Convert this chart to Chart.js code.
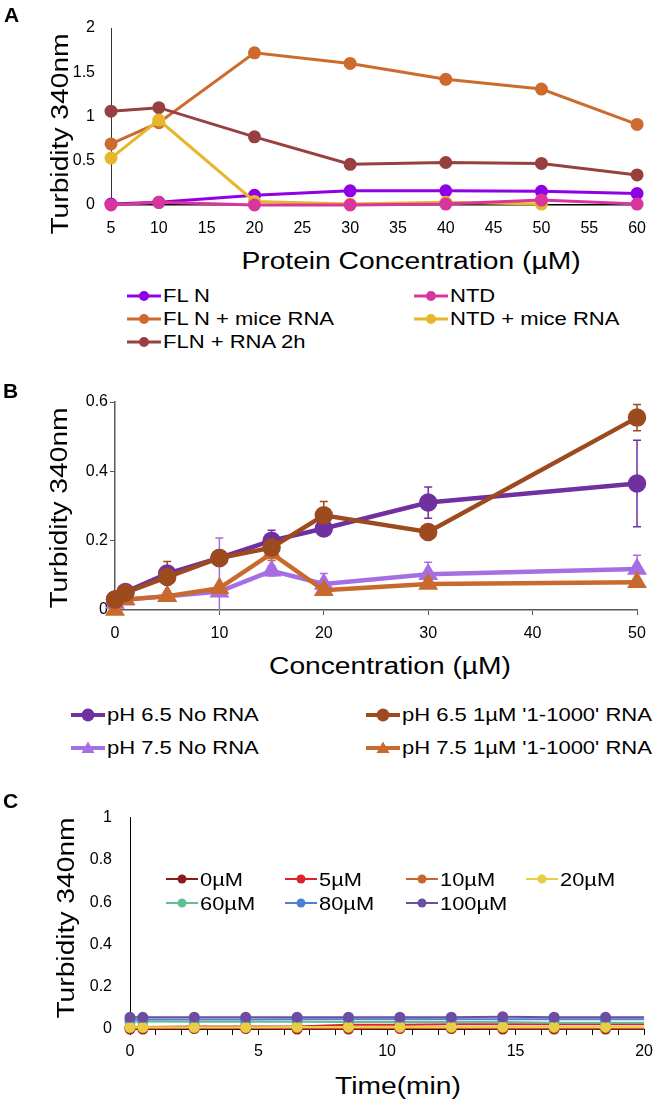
<!DOCTYPE html>
<html>
<head>
<meta charset="utf-8">
<script src="https://cdn.jsdelivr.net/npm/chart.js"></script>
<style>
  body { margin: 0; background: #fff; }
  #page { position: relative; width: 660px; height: 1105px; overflow: hidden; font-family: 'Liberation Sans', Arial, sans-serif; color: #000; }
  canvas { position: absolute; left: 0; }
  .panel { position: absolute; font-weight: bold; font-size: 21px; line-height: 1; }
  .title { position: absolute; white-space: nowrap; font-size: 23.5px; line-height: 1; }
  .xt { transform: translate(-50%, -50%) scaleX(1.2); }
  .yt { transform: translate(-50%, -50%) rotate(-90deg) scaleX(1.2); }
  .leg { position: absolute; display: flex; align-items: center; white-space: nowrap; height: 22px; }
  .leg span { display: inline-block; transform-origin: 0 50%; line-height: 1; }
</style>
</head>
<body>
<div id="page">
  <canvas id="chartA" width="660" height="245" style="top:0"></canvas>
  <canvas id="chartB" width="660" height="270" style="top:380px"></canvas>
  <canvas id="chartC" width="660" height="280" style="top:790px"></canvas>

  <div class="panel" style="left:4px;top:4px">A</div>
  <div class="panel" style="left:3px;top:380px">B</div>
  <div class="panel" style="left:3px;top:790px">C</div>

  <div class="title yt" style="left:61px;top:134px">Turbidity 340nm</div>
  <div class="title xt" style="left:411px;top:262px">Protein Concentration (µM)</div>
  <div class="title yt" style="left:60px;top:508px">Turbidity 340nm</div>
  <div class="title xt" style="left:390px;top:667px">Concentration (µM)</div>
  <div class="title yt" style="left:67px;top:918px">Turbidity 340nm</div>
  <div class="title xt" style="left:398px;top:1087px">Time(min)</div>
</div>
<script>
// ---- panel A: turbidity vs protein concentration
const concA = [5, 10, 20, 30, 40, 50, 60];
const flN = [0.01, 0.03, 0.11, 0.16, 0.16, 0.155, 0.13];
const ntd = [0.0, 0.03, 0.0, 0.0, 0.01, 0.056, 0.01];
const flNMice = [0.69, 0.93, 1.72, 1.6, 1.42, 1.31, 0.91];
const ntdMice = [0.53, 0.96, 0.04, 0.01, 0.03, 0.01, null];
const flnRna2h = [1.06, 1.1, 0.77, 0.46, 0.48, 0.47, 0.34];
const labelsA = ['FL N', 'NTD', 'FL N + mice RNA', 'NTD + mice RNA', 'FLN + RNA 2h'];
const colorsA = ['#8f00e6', '#d8369c', '#cd6b2e', '#e8b62b', '#984040'];

// ---- panel B: turbidity vs concentration, with error bars
const concB = [0, 1, 5, 10, 15, 20, 30, 50];
const ph65No = [0.03, 0.052, 0.105, 0.15, 0.2, 0.235, 0.31, 0.365];
const ph65Rna = [0.03, 0.05, 0.095, 0.15, 0.18, 0.273, 0.225, 0.555];
const ph75No = [0.02, 0.03, 0.04, 0.053, 0.113, 0.075, 0.103, 0.118];
const ph75Rna = [0.0, 0.03, 0.04, 0.063, 0.163, 0.057, 0.075, 0.08];
const err65No = [0.005, 0.005, 0.01, 0.01, 0.03, 0.01, 0.045, 0.125];
const err65Rna = [0.005, 0.005, 0.045, 0.01, 0.01, 0.04, 0.01, 0.038];
const err75No = [0.005, 0.005, 0.01, 0.155, 0.015, 0.03, 0.035, 0.04];
const err75Rna = [0.005, 0.005, 0.005, 0.01, 0.02, 0.01, 0.01, 0.01];
const labelsB = ['pH 6.5 No RNA', "pH 6.5 1µM '1-1000' RNA", 'pH 7.5 No RNA', "pH 7.5 1µM '1-1000' RNA"];
const colorsB = ['#7030a0', '#9c4a1e', '#a56fe3', '#c8692e'];
const shapesB = ['circle', 'circle', 'triangle', 'triangle'];

// ---- panel C: turbidity over time
const timeC = [0, 0.5, 2.5, 4.5, 6.5, 8.5, 10.5, 12.5, 14.5, 16.5, 18.5, 20];
const c0 = [0.0, 0.0, 0.002, 0.002, 0.0, 0.0, 0.002, 0.002, 0.0, 0.0, 0.0, 0.0];
const c5 = [0.01, 0.01, 0.012, 0.012, 0.012, 0.02, 0.02, 0.022, 0.022, 0.022, 0.022, 0.022];
const c10 = [0.005, 0.005, 0.005, 0.005, 0.005, 0.005, 0.005, 0.005, 0.005, 0.005, 0.005, 0.005];
const c20 = [0.008, 0.008, 0.008, 0.008, 0.01, 0.01, 0.01, 0.01, 0.01, 0.01, 0.01, 0.01];
const c60 = [0.035, 0.035, 0.034, 0.034, 0.034, 0.033, 0.033, 0.033, 0.033, 0.03, 0.03, 0.03];
const c80 = [0.045, 0.045, 0.045, 0.045, 0.046, 0.046, 0.046, 0.046, 0.046, 0.046, 0.046, 0.046];
const c100 = [0.055, 0.055, 0.056, 0.056, 0.056, 0.056, 0.056, 0.056, 0.058, 0.056, 0.056, 0.056];
const labelsC = ['0µM', '5µM', '10µM', '20µM', '60µM', '80µM', '100µM'];
const colorsC = ['#8b1a1a', '#e0202a', '#c8652a', '#e6cf45', '#62c08e', '#4e7fd6', '#6c4da0'];

Chart.defaults.font.family = "'Liberation Sans', Arial, sans-serif";
Chart.defaults.color = '#000';

function pts(xs, ys) {
  return xs.map((x, i) => ({ x: x, y: ys[i] })).filter(p => p.y !== null);
}
function fixWidth(w) { return s => { s.width = w; }; }
function fixHeight(h) { return s => { s.height = h; }; }
// "1" not "1.0", "0.5" stays
const plainNum = v => String(Number(v.toFixed(2)));

// draws vertical error bars from each dataset's "errors" array
const errorBars = {
  id: 'errorBars',
  beforeDatasetsDraw(chart) {
    const { ctx, chartArea, scales } = chart;
    ctx.save();
    ctx.beginPath();
    ctx.rect(chartArea.left - 10, chartArea.top - 10, chartArea.right - chartArea.left + 20, chartArea.bottom - chartArea.top + 10);
    ctx.clip();
    chart.data.datasets.forEach(ds => {
      if (!ds.errors) return;
      ctx.strokeStyle = ds.borderColor;
      ctx.lineWidth = 1.5;
      ds.data.forEach((p, i) => {
        const e = ds.errors[i];
        if (!e) return;
        const px = scales.x.getPixelForValue(p.x);
        const top = scales.y.getPixelForValue(p.y + e);
        const bot = scales.y.getPixelForValue(p.y - e);
        ctx.beginPath();
        ctx.moveTo(px, top); ctx.lineTo(px, bot);
        ctx.moveTo(px - 4, top); ctx.lineTo(px + 4, top);
        ctx.moveTo(px - 4, bot); ctx.lineTo(px + 4, bot);
        ctx.stroke();
      });
    });
    ctx.restore();
  }
};

const base = {
  responsive: false,
  animation: false,
  events: [],
  plugins: { legend: { display: false }, tooltip: { enabled: false } }
};

// A
const seriesA = [flN, ntd, flNMice, ntdMice, flnRna2h];
const orderA = [2, 0, 4, 1, 3];
new Chart(document.getElementById('chartA'), {
  type: 'line',
  data: {
    datasets: seriesA.map((ys, i) => ({
      label: labelsA[i],
      data: pts(concA, ys),
      borderColor: colorsA[i],
      backgroundColor: colorsA[i],
      borderWidth: 3,
      pointRadius: 5,
      tension: 0,
      clip: false,
      order: orderA[i]
    }))
  },
  options: {
    ...base,
    layout: { padding: { left: 0, right: 20, top: 28, bottom: 0 } },
    scales: {
      x: {
        type: 'linear', min: 5, max: 60,
        ticks: { stepSize: 5, padding: 14, font: { size: 16 }, maxRotation: 0, autoSkip: false },
        grid: { display: false, drawTicks: false },
        border: { color: '#000', width: 1.5 },
        afterFit: fixHeight(40)
      },
      y: {
        min: 0, max: 2,
        ticks: { stepSize: 0.5, padding: 16, font: { size: 16 }, callback: plainNum },
        grid: { display: false, drawTicks: false },
        border: { color: '#333', width: 1 },
        afterFit: fixWidth(111)
      }
    }
  }
});

// B
const seriesB = [ph65No, ph65Rna, ph75No, ph75Rna];
const errsB = [err65No, err65Rna, err75No, err75Rna];
const orderB = [2, 0, 3, 1];
new Chart(document.getElementById('chartB'), {
  type: 'line',
  data: {
    datasets: seriesB.map((ys, i) => ({
      label: labelsB[i],
      data: pts(concB, ys),
      errors: errsB[i],
      borderColor: colorsB[i],
      backgroundColor: colorsB[i],
      borderWidth: 4.5,
      pointStyle: shapesB[i],
      pointRadius: 7,
      tension: 0,
      clip: false,
      order: orderB[i]
    }))
  },
  options: {
    ...base,
    layout: { padding: { left: 0, right: 23, top: 22, bottom: 0 } },
    scales: {
      x: {
        type: 'linear', min: 0, max: 50,
        ticks: { stepSize: 10, padding: 9, font: { size: 16 }, maxRotation: 0 },
        grid: { display: true, drawOnChartArea: false, drawTicks: true, tickLength: 5, color: '#595959' },
        border: { color: '#595959', width: 1.5 },
        afterFit: fixHeight(40)
      },
      y: {
        min: 0, max: 0.6,
        ticks: { stepSize: 0.2, padding: 2, font: { size: 16 }, callback: plainNum },
        grid: { display: true, drawOnChartArea: false, drawTicks: true, tickLength: 5, color: '#595959' },
        border: { color: '#595959', width: 1.5 },
        afterFit: fixWidth(115)
      }
    }
  },
  plugins: [errorBars]
});

// C
const seriesC = [c0, c5, c10, c20, c60, c80, c100];
const orderC = [6, 4, 5, 1, 3, 2, 0];
new Chart(document.getElementById('chartC'), {
  type: 'line',
  data: {
    datasets: seriesC.map((ys, i) => ({
      label: labelsC[i],
      data: pts(timeC, ys),
      borderColor: colorsC[i],
      backgroundColor: colorsC[i],
      borderWidth: 2,
      pointRadius: ctx => (ctx.raw && ctx.raw.x === 20 ? 0 : 4.5),
      tension: 0,
      clip: false,
      order: orderC[i]
    }))
  },
  options: {
    ...base,
    layout: { padding: { left: 0, right: 12, top: 19, bottom: 0 } },
    scales: {
      x: {
        type: 'linear', min: 0, max: 20,
        ticks: { stepSize: 1, padding: 7, font: { size: 16 }, maxRotation: 0, autoSkip: false,
          callback: v => (v % 5 === 0 ? v : '') },
        grid: { display: true, drawOnChartArea: false, drawTicks: true, tickLength: 6, color: '#000' },
        border: { color: '#000', width: 1 },
        afterFit: fixHeight(41)
      },
      y: {
        min: 0, max: 1,
        ticks: { stepSize: 0.2, padding: 18, font: { size: 16 }, callback: plainNum },
        grid: { display: false, drawTicks: false },
        border: { color: '#000', width: 1 },
        afterFit: fixWidth(130)
      }
    }
  }
});

// legends (html, built from the label / colour lists)
function addLegend(labels, colors, shapes, cols, rows, o) {
  const page = document.getElementById('page');
  labels.forEach((lab, i) => {
    const item = document.createElement('div');
    item.className = 'leg';
    item.style.left = cols[i % cols.length] + 'px';
    item.style.top = (rows[Math.floor(i / cols.length)] - 11) + 'px';
    const c = colors[i];
    const m = o.w / 2;
    const r = o.r;
    const mark = shapes && shapes[i] === 'triangle'
      ? `<polygon points="${m - r},${11 + r * 0.75} ${m + r},${11 + r * 0.75} ${m},${11 - r}" fill="${c}"/>`
      : `<circle cx="${m}" cy="11" r="${r}" fill="${c}"/>`;
    item.innerHTML = `<svg width="${o.w}" height="22"><line x1="0" y1="11" x2="${o.w}" y2="11" stroke="${c}" stroke-width="${o.lw}"/>${mark}</svg>` +
      `<span style="font-size:${o.fs}px;transform:scaleX(${o.sx});margin-left:${o.gap}px">${lab}</span>`;
    page.appendChild(item);
  });
}

addLegend(labelsA, colorsA, null, [127, 414], [296, 319, 342], { w: 34, r: 5, lw: 3, fs: 18.5, sx: 1.19, gap: 2 });
addLegend(labelsB, colorsB, shapesB, [71, 366], [715, 748], { w: 34, r: 6.5, lw: 4, fs: 18.5, sx: 1.19, gap: 2 });
addLegend(labelsC, colorsC, null, [166, 285, 406, 526], [879, 903], { w: 32, r: 4.5, lw: 2, fs: 19, sx: 1.15, gap: 2 });
</script>
</body>
</html>
